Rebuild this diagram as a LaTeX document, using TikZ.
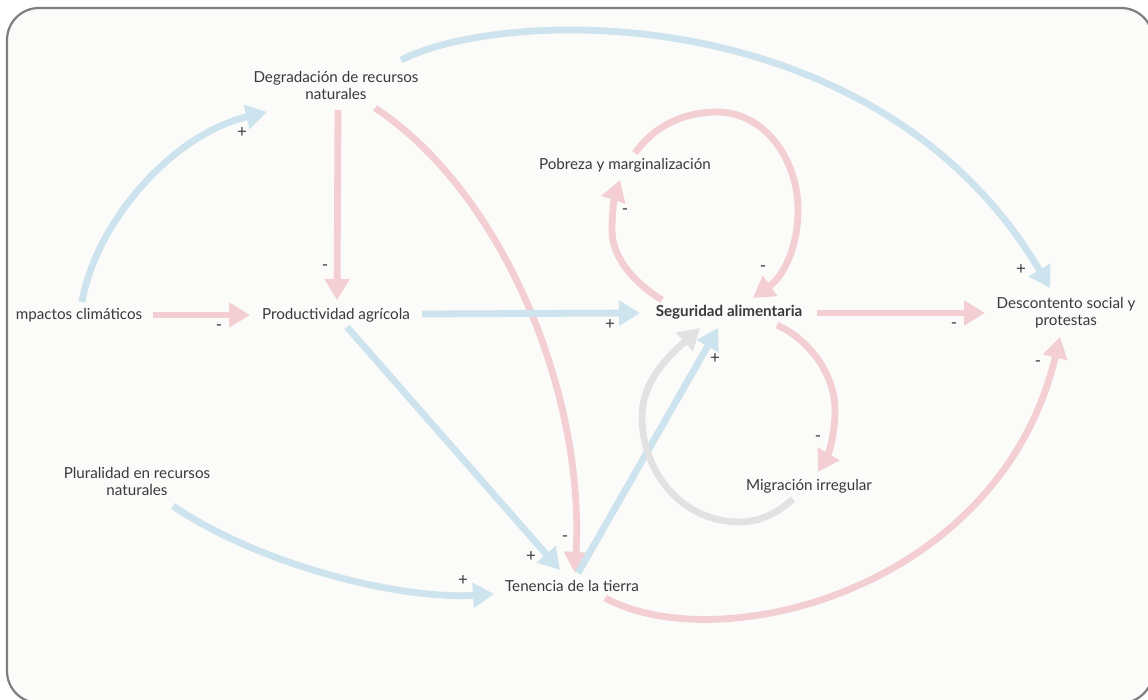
\documentclass[tikz,border=0pt]{standalone}
\usepackage{fontspec}
\setmainfont{Lato}
\usetikzlibrary{arrows.meta}
\definecolor{framegray}{HTML}{7E7E7E}
\definecolor{paper}{HTML}{FBFBF9}
\definecolor{linkblue}{HTML}{CDE3EE}
\definecolor{linkpink}{HTML}{F3CFD3}
\definecolor{linkgray}{HTML}{E2E2E2}
\definecolor{ink}{HTML}{3A3A3A}
\tikzset{
  var/.style={text=ink, align=center, inner sep=0pt, font=\fontsize{15.2}{17}\selectfont},
  sign/.style={text=ink, inner sep=0pt, font=\fontsize{17}{17}\selectfont},
  link/.style={line width=6.8pt, -{Triangle[length=21pt,width=24pt]}},
  poslink/.style={link, draw=linkblue},
  neglink/.style={link, draw=linkpink},
  neutlink/.style={link, draw=linkgray},
}
\begin{document}
\begin{tikzpicture}[x=1pt,y=-1pt]
\useasboundingbox (0,0) rectangle (1148,700);
\fill[white] (0,0) rectangle (1148,700);
\draw[line width=2.2pt, draw=framegray, fill=paper, rounded corners=32pt] (7,8) rectangle (1153,703);

% variables
\node[var] (deg)  at (336,85)  {Degradación de recursos\\naturales};
\node[var] (imp)  at (79,315)  {mpactos climáticos};
\node[var] (prod) at (336,315) {Productividad agrícola};
\node[var, font=\fontsize{15.2}{17}\selectfont\bfseries] (seg) at (729,312) {Seguridad alimentaria};
\node[var] (pob)  at (625,165) {Pobreza y marginalización};
\node[var] (desc) at (1066,313) {Descontento social y\\protestas};
\node[var] (mig)  at (809,486) {Migración irregular};
\node[var] (plu)  at (137,481) {Pluralidad en recursos\\naturales};
\node[var] (ten)  at (572,586) {Tenencia de la tierra};

% causal links
\draw[poslink] ([shift={(3,-13)}]imp.center) .. controls ([shift={(16,-90)}]imp.center) and ([shift={(91,-180)}]imp.center) .. ([shift={(-69,27)}]deg.center);
\draw[neglink] ([shift={(74,0)}]imp.center) -- ([shift={(-86,0)}]prod.center);
\draw[neglink] ([shift={(2,25)}]deg.center) -- ([shift={(1,-15)}]prod.center);
\draw[neglink] ([shift={(39,23)}]deg.center) .. controls ([shift={(164,105)}]deg.center) and ([shift={(249,305)}]deg.center) .. ([shift={(3,-13)}]ten.center);
\draw[poslink] ([shift={(65,-25)}]deg.center) .. controls ([shift={(174,-80)}]deg.center) and ([shift={(544,-85)}]deg.center) .. ([shift={(-16,-25)}]desc.center);
\draw[poslink] ([shift={(86,-1)}]prod.center) -- ([shift={(-89,1)}]seg.center);
\draw[poslink] ([shift={(11,12)}]prod.center) -- ([shift={(-12,-16)}]ten.center);
\draw[poslink] ([shift={(36,25)}]plu.center) .. controls ([shift={(123,84)}]plu.center) and ([shift={(263,119)}]plu.center) .. ([shift={(-78,8)}]ten.center);
\draw[poslink] ([shift={(6,-13)}]ten.center) -- ([shift={(-11,16)}]seg.center);
\draw[neglink] ([shift={(33,12)}]ten.center) .. controls ([shift={(148,74)}]ten.center) and ([shift={(428,4)}]ten.center) .. ([shift={(-6,24)}]desc.center);
\draw[neglink] ([shift={(88,1)}]seg.center) -- ([shift={(-81,0)}]desc.center);
\draw[neglink] ([shift={(-67,-12)}]seg.center) .. controls ([shift={(-99,-32)}]seg.center) and ([shift={(-117,-57)}]seg.center) .. ([shift={(-117,-82)}]seg.center)
  .. controls ([shift={(-117,-102)}]seg.center) and ([shift={(-114,-117)}]seg.center) .. ([shift={(-5,15)}]pob.center);
\draw[neglink] ([shift={(10,-12)}]pob.center) .. controls ([shift={(30,-40)}]pob.center) and ([shift={(60,-53)}]pob.center) .. ([shift={(92,-53)}]pob.center)
  .. controls ([shift={(140,-53)}]pob.center) and ([shift={(173,-5)}]pob.center) .. ([shift={(173,45)}]pob.center)
  .. controls ([shift={(173,80)}]pob.center) and ([shift={(160,110)}]pob.center) .. ([shift={(24,-14)}]seg.center);
\draw[neglink] ([shift={(48,13)}]seg.center) .. controls ([shift={(81,28)}]seg.center) and ([shift={(106,63)}]seg.center) .. ([shift={(106,98)}]seg.center)
  .. controls ([shift={(106,123)}]seg.center) and ([shift={(99,143)}]seg.center) .. ([shift={(9,-14)}]mig.center);
\draw[neutlink] ([shift={(-16,13)}]mig.center) .. controls ([shift={(-34,29)}]mig.center) and ([shift={(-51,36)}]mig.center) .. ([shift={(-69,36)}]mig.center)
  .. controls ([shift={(-129,36)}]mig.center) and ([shift={(-167,-16)}]mig.center) .. ([shift={(-167,-69)}]mig.center)
  .. controls ([shift={(-167,-106)}]mig.center) and ([shift={(-139,-131)}]mig.center) .. ([shift={(-29,16)}]seg.center);

% polarity signs
\node[sign] (s1)  at (242,133) {+};
\node[sign] (s2)  at (219,328) {-};
\node[sign] (s3)  at (325,268) {-};
\node[sign] (s4)  at (565,539) {-};
\node[sign] (s5)  at (1021,270) {+};
\node[sign] (s6)  at (610,325) {+};
\node[sign] (s7)  at (531,557) {+};
\node[sign] (s8)  at (463,581) {+};
\node[sign] (s9)  at (715,359) {+};
\node[sign] (s10) at (1038,364) {-};
\node[sign] (s11) at (954,326) {-};
\node[sign] (s12) at (625,212) {-};
\node[sign] (s13) at (763,269) {-};
\node[sign] (s14) at (818,439) {-};
\end{tikzpicture}
\end{document}
